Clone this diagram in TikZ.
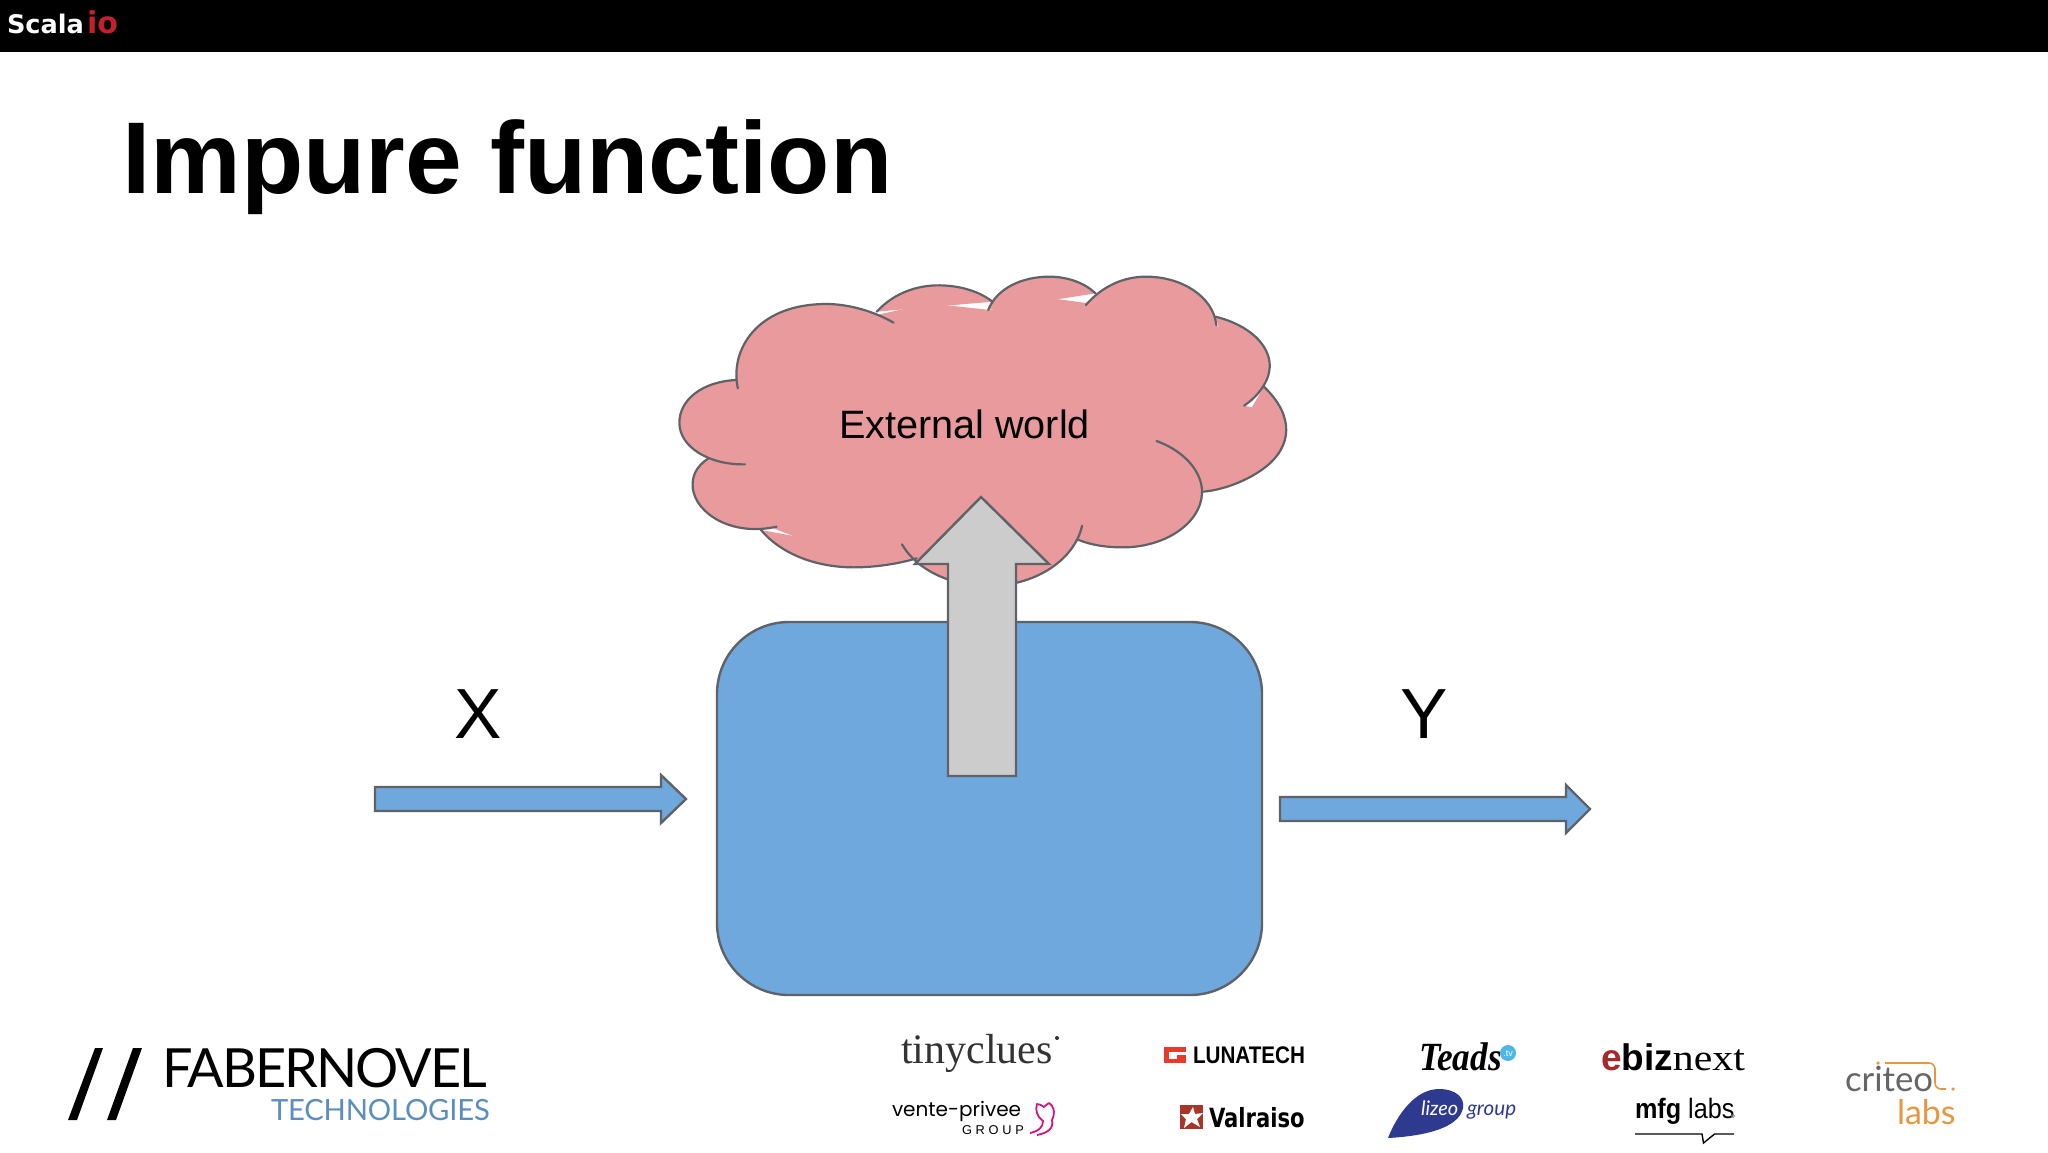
\documentclass[tikz,border=0pt]{standalone}
\usepackage{fontspec}
\setmainfont{Liberation Sans}
\newfontfamily\arial{Liberation Sans}
\newfontfamily\tnr{Liberation Serif}
\newfontfamily\dejavu{DejaVu Sans}
\newfontfamily\latofam{Lato}
\newfontfamily\popfam{Poppins}
\definecolor{cloudc}{HTML}{E99A9C}
\definecolor{boxc}{HTML}{6FA8DC}
\definecolor{greyc}{HTML}{CCCCCC}
\definecolor{linec}{HTML}{5F6368}
\definecolor{fnblue}{HTML}{5B8DBE}
\definecolor{iored}{HTML}{C3202E}
\definecolor{lunared}{HTML}{E8392B}
\definecolor{valred}{HTML}{A8352A}
\definecolor{lizeo}{HTML}{2E3A8F}
\definecolor{ebred}{HTML}{A52A2A}
\definecolor{critgrey}{HTML}{666666}
\definecolor{critor}{HTML}{E8973F}
\definecolor{teadsb}{HTML}{4DB8E8}
\definecolor{vpmag}{HTML}{D6127E}
\tikzset{
  txt/.style={inner sep=0pt,outer sep=0pt,anchor=base west},
  shape line/.style={draw=linec,line width=1.2pt,line join=miter},
  lobe/.style={draw=linec,line width=1.1pt,line cap=round},
}
\newcommand{\fsz}[1]{\fontsize{#1}{#1}\selectfont}
\newcommand{\cloudlobes}[1]{%
\path[#1] (1435,380) .. controls (1510,470) and (1500,560) .. (1440,620) .. controls (1400,660) and (1340,690) .. (1290,695);
\path[#1] (1320,170) .. controls (1400,195) and (1450,255) .. (1449,320) .. controls (1448,365) and (1420,410) .. (1388,437);
\path[#1] (1012,135) .. controls (1050,80) and (1100,50) .. (1155,50) .. controls (1240,50) and (1315,110) .. (1322,195);
\path[#1] (780,150) .. controls (800,85) and (860,50) .. (925,50) .. controls (970,50) and (1010,70) .. (1035,100);
\path[#1] (515,155) .. controls (555,100) and (610,75) .. (665,76) .. controls (715,77) and (760,95) .. (790,125);
\path[#1] (185,385) .. controls (165,270) and (230,132) .. (395,132) .. controls (450,132) and (510,155) .. (555,188);
\path[#1] (180,360) .. controls (100,365) and (45,420) .. (46,490) .. controls (47,560) and (115,615) .. (202,613);
\path[#1] (115,595) .. controls (85,620) and (75,650) .. (78,685) .. controls (85,760) and (170,830) .. (277,800);
\path[#1] (240,810) .. controls (290,885) and (375,922) .. (460,922) .. controls (515,922) and (570,910) .. (610,895);
\path[#1] (575,853) .. controls (610,930) and (690,975) .. (770,978) .. controls (890,982) and (985,900) .. (1003,797);
\path[#1] (1180,543) .. controls (1250,575) and (1290,640) .. (1288,700) .. controls (1285,790) and (1200,862) .. (1100,862) .. controls (1060,862) and (1025,855) .. (995,840);
}
\begin{document}
\begin{tikzpicture}[x=0.5pt,y=-0.5pt]
\useasboundingbox (0,0) rectangle (2048,1152);
\fill[white] (0,0) rectangle (2048,1152);
% top bar
\fill[black] (0,0) rectangle (2048,52);
\node[txt,text=white] (scala) at (7,33) {\dejavu\bfseries\fsz{12.8}Scala};
\node[txt,text=iored] (io) at (87,33) {\dejavu\bfseries\fsz{15}io};
% title
\node[txt] (title) at (122,193) {\arial\bfseries\fsz{51}Impure function};
% cloud
\begin{scope}[shift={(660,260)},x=0.2104pt,y=-0.16667pt]
\fill[cloudc] (185,385) -- (300,200) -- (515,165) -- (640,130) -- (785,150) -- (900,110) -- (1020,130) -- (1150,100) -- (1320,190) -- (1400,300) -- (1388,437) -- (1435,450) -- (1430,600) -- (1290,690) -- (1200,800) -- (1000,840) -- (765,950) -- (610,890) -- (460,900) -- (260,800) -- (150,700) -- (115,595) -- (70,490) -- (180,360) -- cycle;
\cloudlobes{fill=cloudc}
\cloudlobes{lobe}
\end{scope}
\node[txt] (world) at (839,438) {\arial\fsz{19.8}External world};
% main box
\draw[shape line,fill=boxc,rounded corners=36pt] (717,622) rectangle (1262,995);
% grey arrow
\draw[shape line,fill=greyc] (981,497) -- (1049,564) -- (1016,564) -- (1016,776) -- (948,776) -- (948,564) -- (915,564) -- cycle;
% X arrow
\draw[shape line,fill=boxc] (375,787) -- (661,787) -- (661,775) -- (686,799) -- (661,823) -- (661,811) -- (375,811) -- cycle;
% Y arrow
\draw[shape line,fill=boxc] (1280,797) -- (1566,797) -- (1566,785) -- (1590,809) -- (1566,833) -- (1566,821) -- (1280,821) -- cycle;
\node[txt,anchor=base] (xlab) at (478,738) {\arial\fsz{35.5}X};
\node[txt,anchor=base] (ylab) at (1424,738) {\arial\fsz{35.5}Y};
% Fabernovel
\fill[black] (95,1048) -- (103,1048) -- (77,1120) -- (68,1120) -- cycle;
\fill[black] (133,1048) -- (142,1048) -- (116,1120) -- (107,1120) -- cycle;
\node[txt] (faber) at (162,1087) {\latofam\fsz{27}\addfontfeature{LetterSpace=-3.6}FABERNOVEL};
\node[txt,text=fnblue] (tech) at (271,1120) {\latofam\fsz{14.6}\addfontfeature{LetterSpace=-0.6}TECHNOLOGIES};
% tinyclues
\node[txt,text=black!80] (tiny) at (901,1063) {\tnr\fsz{21}tinyclues};
\fill[black!80] (1057,1038) circle (2);
% Lunatech
\fill[lunared] (1164,1047) rectangle (1186,1063);
\fill[white] (1169,1052) rectangle (1177,1059);
\fill[white] (1177,1052) rectangle (1186,1055);
\node[txt] (luna) at (1193,1063) {\arial\bfseries\fsz{12}\scalebox{.86}[1]{LUNATECH}};
% Teads
\node[txt] (teads) at (1419,1070) {\tnr\bfseries\itshape\fsz{20}\scalebox{.88}[1]{Teads}};
\fill[teadsb] (1508,1053) circle (8);
\node[txt,text=white,anchor=base] (tv) at (1508,1056) {\arial\fsz{4.5}.tv};
% vente-privee
\node[txt] (vente) at (892,1116) {\popfam\fsz{10}vente-privee};
\node[txt] (group) at (962,1134) {\arial\fsz{6.4}\addfontfeature{LetterSpace=29}GROUP};
\draw[vpmag,line width=.9pt,line join=round] (1037,1135) .. controls (1048,1133) and (1054,1128) .. (1052,1120) .. controls (1056,1112) and (1053,1105) .. (1049,1103) .. controls (1046,1105) and (1045,1106) .. (1044,1107) .. controls (1041,1105) and (1039,1104) .. (1037,1104) .. controls (1035,1110) and (1037,1117) .. (1043,1121) .. controls (1043,1127) and (1039,1131) .. (1030,1133);
% Valraiso
\fill[valred] (1180,1105) rectangle (1203,1129);
\fill[white] (1193,1107) -- (1195,1114) -- (1203,1113) -- (1197,1119) -- (1200,1127) -- (1191.5,1122) -- (1184,1128) -- (1186,1119) -- (1181,1114) -- (1189,1114) -- cycle;
\node[txt] (valraiso) at (1209,1127) {\dejavu\bfseries\fsz{12}\scalebox{.88}[1.1]{Valraiso}};
% Lizeo
\fill[lizeo] (1388,1138) .. controls (1397,1115) and (1415,1089) .. (1439,1089) .. controls (1456,1089) and (1465,1098) .. (1463,1108) .. controls (1459,1128) and (1425,1136) .. (1388,1138) -- cycle;
\node[txt,text=white] (lizeotxt) at (1421,1115) {\latofam\itshape\fsz{10}lizeo};
\node[txt,text=lizeo] (grouptxt) at (1467,1115) {\latofam\itshape\fsz{10.3}group};
% ebiznext
\node[txt] (ebiz) at (1601,1070) {\arial\bfseries\fsz{18.5}\textcolor{ebred}{e}biz\tnr\mdseries\scalebox{1.13}[1]{next}};
% mfg labs
\node[txt] (mfg) at (1635,1118) {\arial\fsz{14}\scalebox{.9}[1]{\bfseries mfg \mdseries labs}};
\draw[gray,line width=.4pt] (1733,1116) circle (1.6);
\draw[black,line width=.7pt] (1635,1134) -- (1702,1134) -- (1703.5,1143) -- (1714.5,1134) -- (1734,1134);
% criteo labs
\node[txt,text=critgrey] (criteo) at (1845,1091) {\latofam\fsz{17.4}criteo};
\node[txt,text=critor] (labs) at (1897,1124) {\latofam\fsz{17}labs};
\fill[critor] (1878,1063) circle (1.8);
\fill[critor] (1953,1089) circle (1.8);
\draw[critor,line width=.8pt,rounded corners=3pt] (1885,1063) -- (1935,1063) -- (1935,1089) -- (1946,1089);
\end{tikzpicture}
\end{document}
